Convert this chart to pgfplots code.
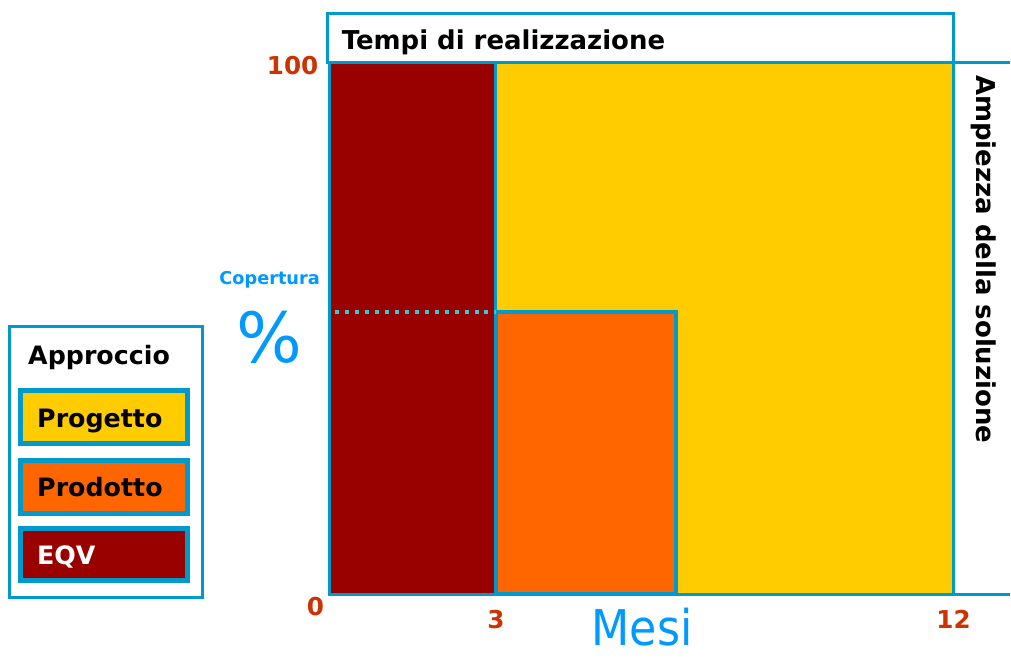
\documentclass[border=0pt]{standalone}
\usepackage{fontspec}
\setmainfont{DejaVu Sans}
\newfontfamily\condfont{DejaVu Sans Condensed}
\usepackage{pgfplots}
\pgfplotsset{compat=1.18}
\definecolor{bord}{HTML}{0099CC}
\definecolor{txtblue}{HTML}{0099FF}
\definecolor{dotc}{HTML}{33CCCC}
\definecolor{tickc}{HTML}{CC3300}
\definecolor{eqv}{HTML}{990000}
\definecolor{prod}{HTML}{FF6600}
\definecolor{prog}{HTML}{FFCC00}
\tikzset{lab/.style={inner sep=0pt, text height=#1, text depth=0pt}}
\begin{document}
\begin{tikzpicture}
\begin{scope}[x=0.75pt,y=-0.75pt]
\path[use as bounding box] (0,0) rectangle (1011,659);
\end{scope}
\begin{axis}[at={(247.5pt,-446.25pt)}, anchor=south west, scale only axis,
  width=468.75pt, height=399pt, xmin=0, xmax=12, ymin=0, ymax=100,
  axis line style={draw=bord, line width=2.25pt},
  xtick={3.2,12}, xticklabels={3,12}, ytick={100}, yticklabels={100},
  major tick length=0pt,
  /pgf/number format/assume math mode=true,
  ticklabel style={font=\fontsize{18.5}{18.5}\selectfont\bfseries, text=tickc, lab=13.5pt},
  xticklabel style={anchor=center, yshift=-18.75pt},
  yticklabel style={anchor=center, xshift=-27.75pt, yshift=-2.25pt},
  clip=false, axis on top]
\addplot[fill=prog, draw=bord, line width=1.5pt] coordinates {(0,0) (12,0) (12,100) (0,100)} -- cycle;
\addplot[fill=eqv, draw=bord, line width=2.25pt] coordinates {(0,0) (3.2,0) (3.2,100) (0,100)} -- cycle;
\addplot[fill=prod, draw=bord, line width=3pt] coordinates {(3.2,0) (6.66,0) (6.66,53.2) (3.2,53.2)} -- cycle;
\addplot[draw=dotc, line width=3pt, dash pattern=on 3pt off 4.5pt] coordinates {(0.1,53.2) (3.2,53.2)};
\node[lab=13.5pt, font=\fontsize{18.5}{18.5}\selectfont\bfseries, text=tickc, anchor=center, xshift=-10.5pt, yshift=-9pt] at (axis cs:0,0) {0};
\end{axis}
\begin{scope}[x=0.75pt,y=-0.75pt]
% title box
\draw[bord, line width=2.25pt, fill=white] (328,14) rectangle (955,63);
\node[lab=14.2pt, anchor=west, font=\fontsize{19.5}{19.5}\selectfont\bfseries] at (342,40) {Tempi di realizzazione};
% right box
\draw[bord, line width=2.25pt] (955,63) -- (1011,63);
\draw[bord, line width=2.25pt] (955,595) -- (1011,595);
\node[lab=14.2pt, anchor=west, rotate=-90, font=\fontsize{19.5}{19.5}\selectfont\bfseries] at (987,75) {Ampiezza della soluzione};
% y axis texts
\node[lab=9.5pt, anchor=center, text=txtblue, font=\fontsize{13.3}{13.3}\selectfont\bfseries] at (270,279) {Copertura};
\node[lab=39pt, anchor=center, text=txtblue, font=\fontsize{52}{52}\selectfont] at (270,337) {\%};
\node[lab=27pt, anchor=center, text=txtblue, font=\fontsize{37}{37}\selectfont\condfont] at (643,628) {Mesi};
% legend
\draw[bord, line width=2.25pt, fill=white] (10,327) rectangle (203,598);
\node[lab=13.9pt, anchor=west, font=\fontsize{19}{19}\selectfont\bfseries] at (28,356) {Approccio};
\draw[bord, line width=3.75pt, fill=prog] (21,391) rectangle (188,444);
\draw[bord, line width=3.75pt, fill=prod] (21,461) rectangle (188,514);
\draw[bord, line width=3.75pt, fill=eqv] (21,529) rectangle (188,581);
\node[lab=13.9pt, anchor=west, font=\fontsize{19}{19}\selectfont\bfseries] at (37,419) {Progetto};
\node[lab=13.9pt, anchor=west, font=\fontsize{19}{19}\selectfont\bfseries] at (37,488) {Prodotto};
\node[lab=13.9pt, anchor=west, text=white, font=\fontsize{19}{19}\selectfont\bfseries] at (37,556) {EQV};
\end{scope}
\end{tikzpicture}
\end{document}
